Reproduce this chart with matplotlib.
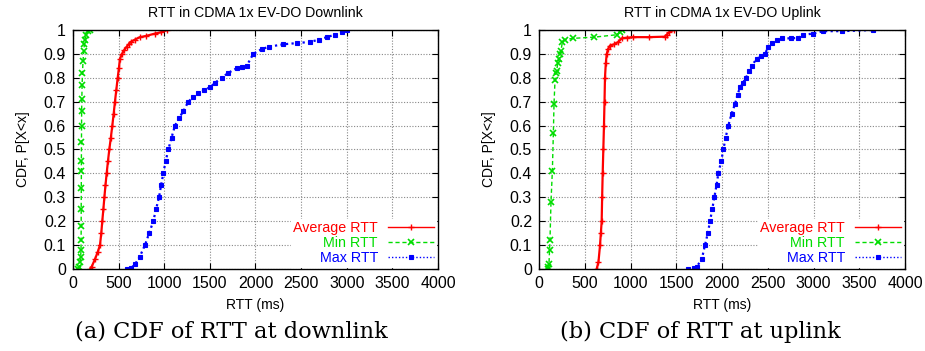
import matplotlib
matplotlib.use("Agg")
import matplotlib.pyplot as plt

# ---- Downlink: (RTT ms, CDF)
dl_avg_x = [190, 205, 240, 270, 296, 310, 321, 333, 344, 356, 369, 383, 398, 415, 431, 446, 460, 475,
            490, 503, 515, 537, 560, 588, 610, 632, 680, 734, 800, 899, 960, 1034]
dl_avg_y = [0.0, 0.01, 0.04, 0.07, 0.10, 0.15, 0.20, 0.25, 0.30, 0.35, 0.40, 0.45, 0.50, 0.55, 0.60, 0.65,
            0.70, 0.75, 0.80, 0.84, 0.88, 0.90, 0.915, 0.93, 0.94, 0.95, 0.96, 0.97, 0.975, 0.985, 0.99, 1.0]

dl_min_x = [55, 70, 78, 84, 88, 89, 90, 90, 91, 92, 92, 93, 94, 95, 97, 100, 104, 110, 118, 125, 132, 140, 160, 185]
dl_min_y = [0.0, 0.01, 0.03, 0.05, 0.08, 0.12, 0.18, 0.25, 0.34, 0.41, 0.45, 0.53, 0.60, 0.66, 0.71, 0.77,
            0.82, 0.87, 0.91, 0.94, 0.96, 0.98, 0.995, 1.0]

dl_max_x = [588, 640, 680, 730, 789, 835, 880, 910, 943, 965, 990, 1015, 1045, 1080, 1118, 1160, 1209,
            1264, 1320, 1374, 1440, 1502, 1560, 1630, 1700, 1794, 1850, 1903, 1976, 2068, 2150, 2305,
            2450, 2598, 2700, 2780, 2870, 2950, 3000]
dl_max_y = [0.0, 0.005, 0.02, 0.05, 0.10, 0.15, 0.20, 0.25, 0.30, 0.35, 0.40, 0.45, 0.50, 0.55, 0.60,
            0.63, 0.66, 0.70, 0.72, 0.735, 0.75, 0.76, 0.78, 0.80, 0.82, 0.84, 0.845, 0.85, 0.90, 0.92,
            0.93, 0.94, 0.945, 0.95, 0.96, 0.97, 0.98, 0.99, 1.0]

# ---- Uplink
ul_avg_x = [630, 650, 667, 676, 685, 690, 696, 703, 710, 716, 721, 730, 740, 755, 776, 820, 867, 904,
            960, 1031, 1200, 1377, 1395, 1420, 1470]
ul_avg_y = [0.0, 0.03, 0.10, 0.15, 0.20, 0.30, 0.40, 0.50, 0.60, 0.70, 0.80, 0.86, 0.90, 0.92, 0.935,
            0.94, 0.95, 0.965, 0.968, 0.97, 0.97, 0.972, 0.98, 0.99, 1.0]

ul_min_x = [95, 100, 109, 115, 120, 131, 146, 157, 164, 175, 185, 193, 205, 219, 230, 240, 255, 284,
            375, 605, 849, 880, 911]
ul_min_y = [0.0, 0.01, 0.02, 0.08, 0.12, 0.28, 0.41, 0.57, 0.69, 0.79, 0.82, 0.83, 0.86, 0.88, 0.90,
            0.91, 0.95, 0.96, 0.965, 0.97, 0.98, 0.99, 1.0]

ul_max_x = [1632, 1690, 1724, 1778, 1814, 1845, 1869, 1893, 1916, 1940, 1960, 1990, 2015, 2040, 2069,
            2105, 2142, 2170, 2197, 2230, 2263, 2295, 2325, 2379, 2430, 2470, 2506, 2550, 2598, 2653,
            2750, 2834, 2889, 2998, 3108, 3308, 3654]
ul_max_y = [0.0, 0.005, 0.01, 0.04, 0.10, 0.15, 0.20, 0.25, 0.30, 0.35, 0.40, 0.45, 0.50, 0.55, 0.60,
            0.65, 0.69, 0.73, 0.76, 0.78, 0.80, 0.83, 0.85, 0.88, 0.89, 0.90, 0.93, 0.945, 0.96, 0.965,
            0.965, 0.967, 0.98, 0.985, 0.995, 0.995, 1.0]

titles = ["RTT in CDMA 1x EV-DO Downlink", "RTT in CDMA 1x EV-DO Uplink"]
captions = ["(a) CDF of RTT at downlink", "(b) CDF of RTT at uplink"]
labels = ["Average RTT", "Min RTT", "Max RTT"]
colors = ["#ff0000", "#00dd00", "#0000ff"]

plt.rcParams["font.family"] = ["Liberation Sans", "DejaVu Sans"]

fig = plt.figure(figsize=(9.25, 3.51), dpi=100)
axes = [fig.add_axes([0.0789, 0.2336, 0.3946, 0.681]),
        fig.add_axes([0.5827, 0.2336, 0.3957, 0.681])]

data = [[(dl_avg_x, dl_avg_y), (dl_min_x, dl_min_y), (dl_max_x, dl_max_y)],
        [(ul_avg_x, ul_avg_y), (ul_min_x, ul_min_y), (ul_max_x, ul_max_y)]]
styles = [dict(ls="-", marker="+", ms=5, mew=1.0, lw=1.6),
          dict(ls=(0, (3, 2)), marker="x", ms=4, mew=1.2, lw=1.0),
          dict(ls=(0, (1, 1.5)), marker="s", ms=3.5, mew=0.8, lw=1.6)]

for k, ax in enumerate(axes):
    for (x, y), lab, c, st in zip(data[k], labels, colors, styles):
        ax.plot(x, y, color=c, label=lab, **st)
    ax.set_xlim(0, 4000)
    ax.set_ylim(0, 1)
    ax.set_xticks(range(0, 4001, 500))
    ax.set_yticks([i / 10 for i in range(11)])
    ax.set_yticklabels(["0"] + ["%.1f" % (i / 10) for i in range(1, 10)] + ["1"])
    ax.grid(True, color="#888888", ls=(0, (1, 1.5)), lw=0.8)
    ax.tick_params(direction="in", top=True, right=True, length=4, labelsize=11.5, pad=5)
    for s in ax.spines.values():
        s.set_linewidth(1.0)
    ax.set_title(titles[k], fontsize=10.2, pad=9)
    ax.set_xlabel("RTT (ms)", fontsize=10, labelpad=5)
    ax.set_ylabel("CDF, P[X<x]", fontsize=10, labelpad=10)
    leg = ax.legend(loc="lower right", bbox_to_anchor=(1.0, 0.0), markerfirst=False, numpoints=1,
                    labelcolor="linecolor", fontsize=10.3, frameon=True, fancybox=False,
                    handlelength=3.2, handletextpad=0.7, labelspacing=0.05, borderpad=0.15,
                    borderaxespad=0.15)
    leg.get_frame().set_edgecolor("white")
    leg.get_frame().set_alpha(1.0)
    for h in leg.legend_handles:
        h.set_linewidth(1.0)

fig.text(0.25, 0.055, captions[0], ha="center", va="center", fontsize=16.2,
         family=["DejaVu Serif"])
fig.text(0.757, 0.055, captions[1], ha="center", va="center", fontsize=16.2,
         family=["DejaVu Serif"])

fig.savefig("out.png", dpi=100)
